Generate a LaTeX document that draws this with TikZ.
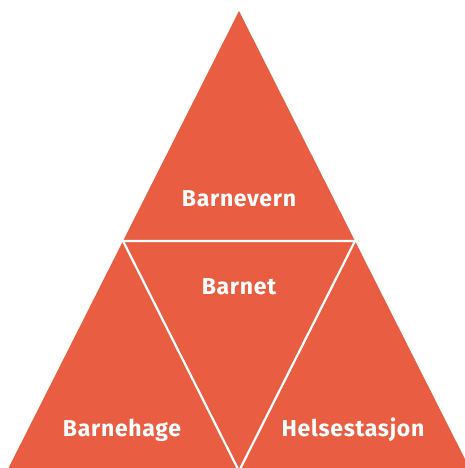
\documentclass[tikz,border=0pt]{standalone}
\usepackage{fontspec}
\setmainfont[LetterSpace=3]{Fira Sans}
\usetikzlibrary{calc}
\definecolor{triorange}{RGB}{233,94,67}
\tikzset{
    lbl/.style={text=white, font=\fontsize{23}{26}\selectfont\bfseries}
}
\begin{document}
\begin{tikzpicture}[x=1pt, y=-1pt]
    \useasboundingbox (0,0) rectangle (465,468);

    % Corners of the big triangle and midpoints
    \coordinate (top) at (239,11);
    \coordinate (bl) at (7,471);
    \coordinate (br) at (471,471);
    \coordinate (ml) at ($(top)!0.5!(bl)$);
    \coordinate (mr) at ($(top)!0.5!(br)$);
    \coordinate (mb) at ($(bl)!0.5!(br)$);

    % The four triangles
    \fill[triorange] (top) -- (bl) -- (br) -- cycle;
    \draw[white, line width=2.2pt] (ml) -- (mr) -- (mb) -- cycle;

    % Labels
    \node[lbl] (vern) at (239,199) {Barnevern};
    \node[lbl] (barn) at (239,287) {Barnet};
    \node[lbl] (hage) at (122,430) {Barnehage};
    \node[lbl] (helse) at (353,430) {Helsestasjon};
\end{tikzpicture}
\end{document}
